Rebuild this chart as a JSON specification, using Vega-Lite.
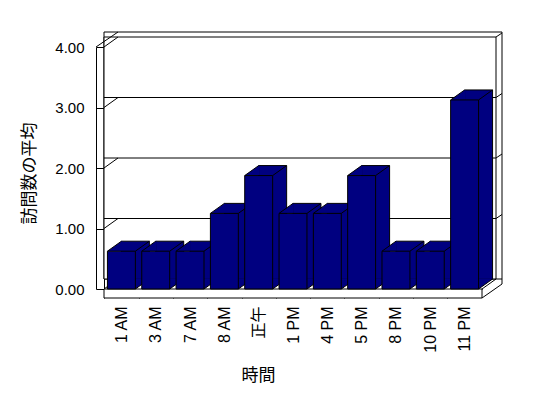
{
  "$schema": "https://vega.github.io/schema/vega-lite/v6.json",
  "width": 378,
  "height": 242,
  "autosize": {"type": "none"},
  "padding": {"left": 104, "top": 47, "right": 66, "bottom": 109},
  "background": "white",
  "config": {
    "view": {"stroke": "black", "strokeWidth": 1, "strokeDash": [0, 620, 620]},
    "font": "Liberation Sans, Noto Sans CJK JP"
  },
  "datasets": {
    "visits": [
      {"time": "1 AM", "value": 0.625},
      {"time": "3 AM", "value": 0.625},
      {"time": "7 AM", "value": 0.625},
      {"time": "8 AM", "value": 1.25},
      {"time": "正午", "value": 1.875},
      {"time": "1 PM", "value": 1.25},
      {"time": "4 PM", "value": 1.25},
      {"time": "5 PM", "value": 1.875},
      {"time": "8 PM", "value": 0.625},
      {"time": "10 PM", "value": 0.625},
      {"time": "11 PM", "value": 3.125}
    ],
    "levels": [{"v": 0}, {"v": 1}, {"v": 2}, {"v": 3}, {"v": 4}],
    "wall": [{"lo": 0, "hi": 4}]
  },
  "data": {"name": "visits"},
  "layer": [
    {
      "data": {"name": "wall"},
      "mark": {"type": "rect", "fill": "white", "stroke": "black", "strokeWidth": 1, "xOffset": 20, "x2Offset": 14, "yOffset": -15, "y2Offset": -10},
      "encoding": {
        "y": {"field": "hi", "type": "quantitative", "scale": {"domain": [0, 4], "nice": false}},
        "y2": {"field": "lo"}
      }
    },
    {
      "data": {"name": "wall"},
      "mark": {"type": "rect", "fill": "white", "stroke": "black", "strokeWidth": 1, "xOffset": 14, "x2Offset": 14, "yOffset": -10, "y2Offset": -10},
      "encoding": {
        "y": {"field": "hi", "type": "quantitative", "scale": {"domain": [0, 4], "nice": false}},
        "y2": {"field": "lo"}
      }
    },
    {
      "data": {"name": "levels"},
      "transform": [{"filter": "datum.v > 0 && datum.v < 4"}],
      "mark": {"type": "rule", "stroke": "black", "strokeWidth": 1, "xOffset": 14, "x2Offset": 14, "yOffset": -10, "y2Offset": -10},
      "encoding": {
        "y": {"field": "v", "type": "quantitative", "scale": {"domain": [0, 4], "nice": false}}
      }
    },
    {
      "data": {"name": "levels"},
      "mark": {"type": "point", "shape": "M-189,0 L-175,-10", "size": 4, "filled": false, "stroke": "black", "strokeWidth": 1, "opacity": 1},
      "encoding": {
        "y": {"field": "v", "type": "quantitative", "scale": {"domain": [0, 4], "nice": false}}
      }
    },
    {
      "data": {"name": "levels"},
      "transform": [{"filter": "datum.v == 4"}],
      "mark": {"type": "point", "shape": "M-197,0 L-175,-15", "size": 4, "filled": false, "stroke": "black", "strokeWidth": 1, "opacity": 1},
      "encoding": {
        "y": {"field": "v", "type": "quantitative", "scale": {"domain": [0, 4], "nice": false}}
      }
    },
    {
      "data": {"name": "levels"},
      "transform": [{"filter": "datum.v > 0"}],
      "mark": {"type": "point", "shape": "M203,-10 L209,-14", "size": 4, "filled": false, "stroke": "black", "strokeWidth": 1, "opacity": 1},
      "encoding": {
        "y": {"field": "v", "type": "quantitative", "scale": {"domain": [0, 4], "nice": false}}
      }
    },
    {
      "data": {"name": "levels"},
      "transform": [{"filter": "datum.v == 0"}],
      "mark": {"type": "point", "shape": "M189,0 L203,-10 M189,9 L209,-5 L209,-10", "size": 4, "filled": false, "stroke": "black", "strokeWidth": 1, "opacity": 1},
      "encoding": {
        "y": {"field": "v", "type": "quantitative", "scale": {"domain": [0, 4], "nice": false}}
      }
    },
    {
      "data": {"name": "wall"},
      "mark": {"type": "rect", "fill": "white", "stroke": "black", "strokeWidth": 1, "xOffset": 0, "x2Offset": -8, "y2Offset": 9},
      "encoding": {
        "y": {"field": "lo", "type": "quantitative", "scale": {"domain": [0, 4], "nice": false}},
        "y2": {"field": "lo"}
      }
    },
    {
      "mark": {"type": "bar", "fill": "#000080", "stroke": "black", "strokeWidth": 1, "xOffset": 14, "yOffset": -10, "y2Offset": -10},
      "encoding": {
        "x": {"field": "time", "type": "nominal", "sort": null, "scale": {"type": "band", "paddingInner": 0.186, "paddingOuter": 0.1}},
        "y": {"field": "value", "type": "quantitative", "scale": {"domain": [0, 4], "nice": false}}
      }
    },
    {
      "mark": {"type": "point", "shape": "M0,0 L14,-10 L14.8,-10 L14.8,0 Z", "size": 4, "filled": true, "fill": "#000080", "strokeWidth": 0, "opacity": 1},
      "encoding": {
        "x": {"field": "time", "type": "nominal", "sort": null, "bandPosition": 0, "scale": {"type": "band", "paddingInner": 0.186, "paddingOuter": 0.1}},
        "y": {"field": "value", "type": "quantitative", "scale": {"domain": [0, 4], "nice": false}}
      }
    },
    {
      "mark": {"type": "point", "shape": "M0,0 L14,-10 L14,-10.7 L-0.5,-10.7 L-0.5,0 Z", "size": 4, "filled": true, "fill": "#000080", "strokeWidth": 0, "opacity": 1},
      "encoding": {
        "x": {"field": "time", "type": "nominal", "sort": null, "bandPosition": 1, "scale": {"type": "band", "paddingInner": 0.186, "paddingOuter": 0.1}},
        "y": {"datum": 0, "type": "quantitative", "scale": {"domain": [0, 4], "nice": false}}
      }
    },
    {
      "mark": {"type": "point", "shape": "M0,0 L14,-10", "size": 4, "filled": false, "stroke": "black", "strokeWidth": 1, "opacity": 1},
      "encoding": {
        "x": {"field": "time", "type": "nominal", "sort": null, "bandPosition": 0, "scale": {"type": "band", "paddingInner": 0.186, "paddingOuter": 0.1}},
        "y": {"field": "value", "type": "quantitative", "scale": {"domain": [0, 4], "nice": false}}
      }
    },
    {
      "mark": {"type": "point", "shape": "M0,0 L14,-10", "size": 4, "filled": false, "stroke": "black", "strokeWidth": 1, "opacity": 1},
      "encoding": {
        "x": {"field": "time", "type": "nominal", "sort": null, "bandPosition": 1, "scale": {"type": "band", "paddingInner": 0.186, "paddingOuter": 0.1}},
        "y": {"field": "value", "type": "quantitative", "scale": {"domain": [0, 4], "nice": false}}
      }
    },
    {
      "mark": {"type": "point", "shape": "M0,0 L14,-10", "size": 4, "filled": false, "stroke": "black", "strokeWidth": 1, "opacity": 1},
      "encoding": {
        "x": {"field": "time", "type": "nominal", "sort": null, "bandPosition": 1, "scale": {"type": "band", "paddingInner": 0.186, "paddingOuter": 0.1}},
        "y": {"datum": 0, "type": "quantitative", "scale": {"domain": [0, 4], "nice": false}}
      }
    },
    {
      "mark": {"type": "bar", "fill": "#000080", "stroke": "black", "strokeWidth": 1},
      "encoding": {
        "x": {
          "field": "time", "type": "nominal", "sort": null,
          "scale": {"type": "band", "paddingInner": 0.186, "paddingOuter": 0.1},
          "axis": {
            "title": "時間",
            "labelAngle": 270,
            "labelFont": "Liberation Sans, Noto Sans CJK JP",
            "labelFontSize": 16,
            "labelColor": "black",
            "labelPadding": 17,
            "domain": false,
            "offset": 9,
            "ticks": true,
            "tickSize": -9,
            "tickColor": "black",
            "tickWidth": 1,
            "bandPosition": 0,
            "tickOffset": -3.2,
            "labelOffset": 3.2,
            "grid": false,
            "titleFont": "Noto Sans CJK JP",
            "titleFontSize": 17,
            "titleFontWeight": "normal",
            "titleColor": "black",
            "titleX": 154,
            "titleY": 77,
            "titleAlign": "center",
            "titleBaseline": "middle"
          }
        },
        "y": {
          "field": "value", "type": "quantitative",
          "scale": {"domain": [0, 4], "nice": false},
          "axis": {
            "title": "訪問数の平均",
            "values": [0, 1, 2, 3, 4],
            "format": ".2f",
            "grid": false,
            "offset": 8,
            "domainColor": "black",
            "domainWidth": 1,
            "tickSize": -8,
            "tickColor": "black",
            "tickWidth": 1,
            "labelPadding": 20,
            "labelFont": "Liberation Sans",
            "labelFontSize": 15,
            "labelColor": "black",
            "titleFont": "Noto Sans CJK JP",
            "titleFontSize": 17,
            "titleFontWeight": "normal",
            "titleColor": "black",
            "titleAngle": 270,
            "titleX": -67,
            "titleY": 126,
            "titleAlign": "center",
            "titleBaseline": "middle"
          }
        }
      }
    }
  ]
}
